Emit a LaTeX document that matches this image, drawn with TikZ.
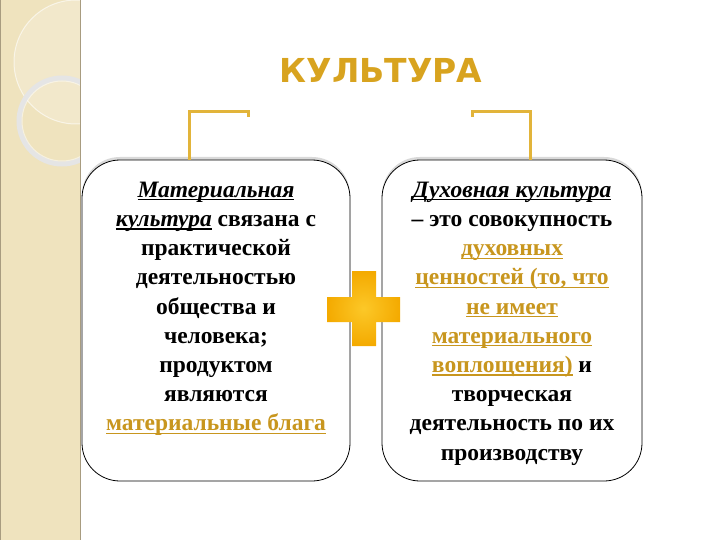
\documentclass[tikz,border=0pt]{standalone}
\usepackage{fontspec}
\setmainfont{Liberation Serif}
\newfontfamily\titlefont{DejaVu Sans}
\usetikzlibrary{positioning,shadows}
\definecolor{gold}{HTML}{C8961E}
\definecolor{titlegold}{HTML}{D8A31F}
\definecolor{bracketgold}{HTML}{E2B43A}
\definecolor{sidefill}{HTML}{EFE3BE}
\definecolor{sideedge}{HTML}{A89C80}
\newcommand\undl[1]{\setbox0\hbox{#1}\rlap{\raisebox{-3pt}{\rule{\wd0}{1.1pt}}}\box0\relax}

\begin{document}
\begin{tikzpicture}[x=1pt, y=-1pt, thick,
    box/.style={draw=black, line width=0.8pt, rounded corners=38pt, fill=white,
      minimum height=321pt,
      drop shadow={shadow xshift=0pt, shadow yshift=3pt, opacity=0.3}},
    boxtext/.style={font=\bfseries\fontsize{23.5}{29.2}\selectfont, align=center, inner sep=0pt},
    bracket/.style={draw=bracketgold, line width=3pt},
    title/.style={font=\titlefont\bfseries\fontsize{33}{40}\selectfont, text=titlegold}]
  \useasboundingbox (0,0) rectangle (720,540);
  % side strip
  \fill[sidefill] (0,0) rectangle (80,540);
  \begin{scope}
    \clip (0,0) rectangle (80,540);
    \fill[white, opacity=0.2] (76,62) circle (62);
    \draw[white, opacity=0.6, line width=1pt] (76,62) circle (62);
    \draw[black!10, line width=5pt] (62,121) circle (43);
    \draw[white, opacity=0.5, line width=1pt] (62,121) circle (40);
  \end{scope}
  \draw[sideedge, line width=1pt] (80,0) -- (80,540);
  \draw[sideedge, line width=1pt] (0.5,0) -- (0.5,540);

  \node[title] (title) at (381,70) {КУЛЬТУРА};

  % the two boxes
  \node[box, minimum width=268pt] (leftbox) at (216,320.5) {};
  \node[box, minimum width=260pt] (rightbox) at (512,320.5) {};

  \foreach \X/\D in {-27/59} {
    \draw[bracket] ([xshift=\X pt]leftbox.north) -- ++(0,-48) -- ++(\D,0) -- ++(0,5);
  }
  \foreach \X/\D in {18/-58} {
    \draw[bracket] ([xshift=\X pt]rightbox.north) -- ++(0,-48) -- ++(\D,0) -- ++(0,5);
  }

  \node[boxtext, below=22pt of leftbox.north] (lefttext) {%
    \undl{\textit{Материальная}}\\
    \undl{\textit{культура}} связана с\\
    практической\\
    деятельностью\\
    общества и\\
    человека;\\
    продуктом\\
    являются\\
    \textcolor{gold}{\undl{материальные блага}}};

  \node[boxtext, below=22pt of rightbox.north] (righttext) {%
    \undl{\textit{Духовная культура}}\\
    – это совокупность\\
    \textcolor{gold}{\undl{духовных}}\\
    \textcolor{gold}{\undl{ценностей (то, что}}\\
    \textcolor{gold}{\undl{не имеет}}\\
    \textcolor{gold}{\undl{материального}}\\
    \textcolor{gold}{\undl{воплощения)}} и\\
    творческая\\
    деятельность по их\\
    производству};

  % plus sign
  \shade[inner color={rgb,255:red,252;green,200;blue,40}, outer color={rgb,255:red,244;green,170;blue,0}]
    (327,297) -- (352,297) -- (352,271) -- (376,271) -- (376,297) -- (400,297)
    -- (400,322) -- (376,322) -- (376,346) -- (352,346) -- (352,322) -- (327,322) -- cycle;
\end{tikzpicture}
\end{document}
